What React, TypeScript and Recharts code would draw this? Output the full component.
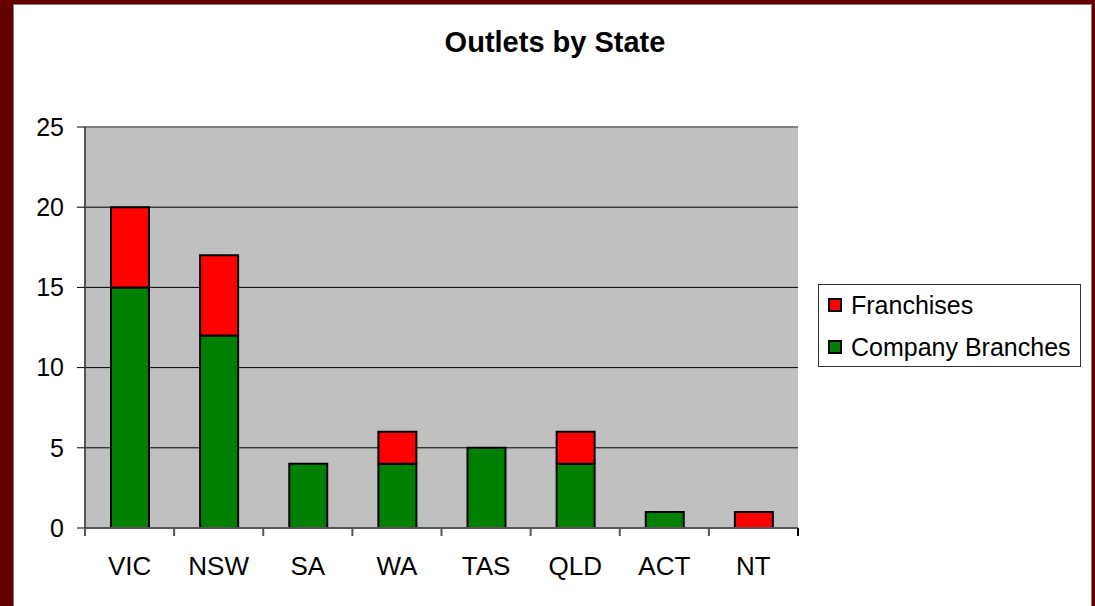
import React from "react";
import { BarChart, Bar, XAxis, YAxis, CartesianGrid, ReferenceLine } from "recharts";

const categories = ["VIC", "NSW", "SA", "WA", "TAS", "QLD", "ACT", "NT"];
const companyBranches = [15, 12, 4, 4, 5, 4, 1, 0];
const franchises = [5, 5, 0, 2, 0, 2, 0, 1];
const yTicks = [0, 5, 10, 15, 20, 25];
const legendItems = [
  { name: "Franchises", color: "#FF0000" },
  { name: "Company Branches", color: "#008000" },
];

const data = categories.map((c, i) => ({
  state: c,
  company: companyBranches[i],
  franchise: franchises[i],
}));

const FONT = "'Liberation Sans', Arial, sans-serif";
const X_TICK_SIZE = 8;
const X_TICK_MARGIN = 21;

const LegendBox = () => (
  <div
    style={{
      position: "absolute",
      left: 818,
      top: 284,
      width: 263,
      height: 83,
      boxSizing: "border-box",
      border: "1px solid #333",
      background: "#fff",
      fontFamily: FONT,
      fontSize: 25,
      color: "#000",
    }}
  >
    {legendItems.map((it, i) => (
      <div
        key={it.name}
        style={{ position: "absolute", left: 9, top: 6 + i * 42, height: 28, display: "flex", alignItems: "center" }}
      >
        <span
          style={{
            display: "inline-block",
            width: 14,
            height: 14,
            boxSizing: "border-box",
            background: it.color,
            border: "2px solid #000",
            marginRight: 9,
          }}
        />
        <span style={{ whiteSpace: "nowrap" }}>{it.name}</span>
      </div>
    ))}
  </div>
);

const CategoryTick = (props: any) => {
  const { x, y, payload, index, visibleTicksCount } = props;
  const half = payload && payload.offset ? payload.offset : 0;
  const axisY = y - X_TICK_SIZE - X_TICK_MARGIN;
  const isLast = index === (visibleTicksCount ?? categories.length) - 1;
  return (
    <g>
      <line x1={x - half} x2={x - half} y1={axisY} y2={axisY + X_TICK_SIZE} stroke="#555" strokeWidth={2} />
      {isLast && (
        <line x1={x + half} x2={x + half} y1={axisY} y2={axisY + X_TICK_SIZE} stroke="#000" strokeWidth={2} />
      )}
      <text x={x} y={y} dy="0.71em" textAnchor="middle" fill="#000" fontSize={26} fontFamily={FONT}>
        {payload.value}
      </text>
    </g>
  );
};

export default function App() {
  return (
    <div style={{ position: "absolute", left: 0, top: 0, width: 1095, height: 606, background: "#660000", overflow: "hidden" }}>
      <div
        style={{
          position: "absolute",
          left: 13,
          top: 4,
          width: 1079,
          height: 610,
          background: "#fff",
          border: "1px solid #808080",
          boxSizing: "border-box",
        }}
      />
      <div
        style={{
          position: "absolute",
          left: 0,
          top: 26,
          width: 1110,
          textAlign: "center",
          fontFamily: FONT,
          fontWeight: "bold",
          fontSize: 29,
          color: "#000",
        }}
      >
        Outlets by State
      </div>
      <div style={{ position: "absolute", left: 0, top: 0 }}>
        <BarChart
          width={1095}
          height={606}
          data={data}
          margin={{ top: 127, right: 297, bottom: 38, left: 25 }}
          barSize={38}
        >
          <CartesianGrid vertical={false} stroke="#000" fill="#C0C0C0" fillOpacity={1} />
          <XAxis
            dataKey="state"
            height={40}
            tickLine={false}
            tickSize={X_TICK_SIZE}
            tickMargin={X_TICK_MARGIN}
            axisLine={{ stroke: "#555", strokeWidth: 2 }}
            tick={CategoryTick}
            interval={0}
          />
          <YAxis
            domain={[0, 25]}
            ticks={yTicks}
            width={60}
            tickSize={8}
            tickMargin={13}
            tickLine={{ stroke: "#000", strokeWidth: 1 }}
            axisLine={{ stroke: "#555", strokeWidth: 2 }}
            tick={{ fill: "#000", fontSize: 25, fontFamily: FONT }}
            allowDataOverflow
          />
          <YAxis
            yAxisId="r"
            orientation="right"
            width={0}
            tick={false}
            tickLine={false}
            axisLine={{ stroke: "#808080", strokeWidth: 2 }}
          />
          <ReferenceLine y={25} stroke="#808080" strokeWidth={2} />
          <Bar dataKey="company" name="Company Branches" stackId="a" fill="#008000" stroke="#000" strokeWidth={2} isAnimationActive={false} />
          <Bar dataKey="franchise" name="Franchises" stackId="a" fill="#FF0000" stroke="#000" strokeWidth={2} isAnimationActive={false} />
        </BarChart>
      </div>
      <LegendBox />
    </div>
  );
}
